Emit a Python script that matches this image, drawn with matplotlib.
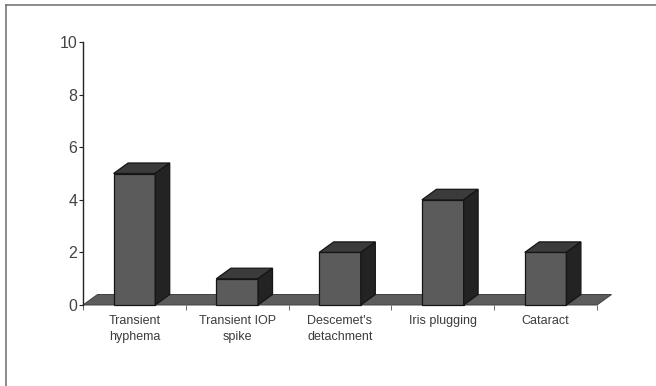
import matplotlib
matplotlib.use('Agg')
import matplotlib.pyplot as plt
from matplotlib.lines import Line2D
from matplotlib.patches import Polygon

plt.rcParams['font.family'] = ['Liberation Sans', 'DejaVu Sans']

categories = ['Transient\nhyphema', 'Transient IOP\nspike', "Descemet's\ndetachment", 'Iris plugging', 'Cataract']
values = [5, 1, 2, 4, 2]
y_ticks = [0, 2, 4, 6, 8, 10]

W, H = 656, 386
fig = plt.figure(figsize=(W / 100, H / 100), dpi=100, facecolor='white')

# plot area in pixels: x 83-597, y 42-305
ax = fig.add_axes([83 / W, (H - 305) / H, 514 / W, 263 / H])
ax.set_xlim(0, len(categories))
ax.set_ylim(0, 10)
ax.patch.set_visible(False)

# depth of the fake 3D in data units
dx = 14.5 / (514 / len(categories))
dy = 10.5 / (263 / 10)
bar_w = 0.405


def poly(pts, color, z, edge='#151515', lw=0.9):
    ax.add_patch(Polygon(pts, closed=True, facecolor=color, edgecolor=edge,
                         linewidth=lw, clip_on=False, zorder=z, joinstyle='miter'))


# floor
n = len(categories)
poly([(0, 0), (dx, dy), (n + dx, dy), (n, 0)], '#5c5c5c', 1, edge='#404040', lw=0.7)

for i, v in enumerate(values):
    left = i + 0.5 - bar_w / 2
    right = i + 0.5 + bar_w / 2
    poly([(left, 0), (right, 0), (right, v), (left, v)], '#5b5b5b', 3)
    poly([(left, v), (right, v), (right + dx, v + dy), (left + dx, v + dy)], '#3b3b3b', 3)
    poly([(right, 0), (right + dx, dy), (right + dx, v + dy), (right, v)], '#232323', 3)

for side in ['top', 'right', 'bottom']:
    ax.spines[side].set_visible(False)
ax.spines['left'].set_color('#222222')
ax.spines['left'].set_linewidth(1.0)

ax.set_yticks(y_ticks)
ax.set_xticks(range(n + 1))
ax.set_xticklabels([])
ax.set_xticks([i + 0.5 for i in range(n)], minor=True)
ax.set_xticklabels(categories, minor=True, fontsize=9, color='#3c3c3c', linespacing=1.42)
ax.tick_params(axis='x', which='major', length=3.5, width=0.7, color='#666666')
ax.tick_params(axis='x', which='minor', length=0, pad=7)
ax.tick_params(axis='y', length=3, width=0.8, color='#222222', labelsize=11.5, labelcolor='#444444', pad=1)

# frame, top and left edges only
fig.add_artist(Line2D([5.5 / W, 5.5 / W], [1 - 4.5 / H, 0.0], color='#777777', lw=1.2))
fig.add_artist(Line2D([5.5 / W, 1.0], [1 - 4.5 / H, 1 - 4.5 / H], color='#777777', lw=1.2))

fig.savefig('out.png', dpi=100)
